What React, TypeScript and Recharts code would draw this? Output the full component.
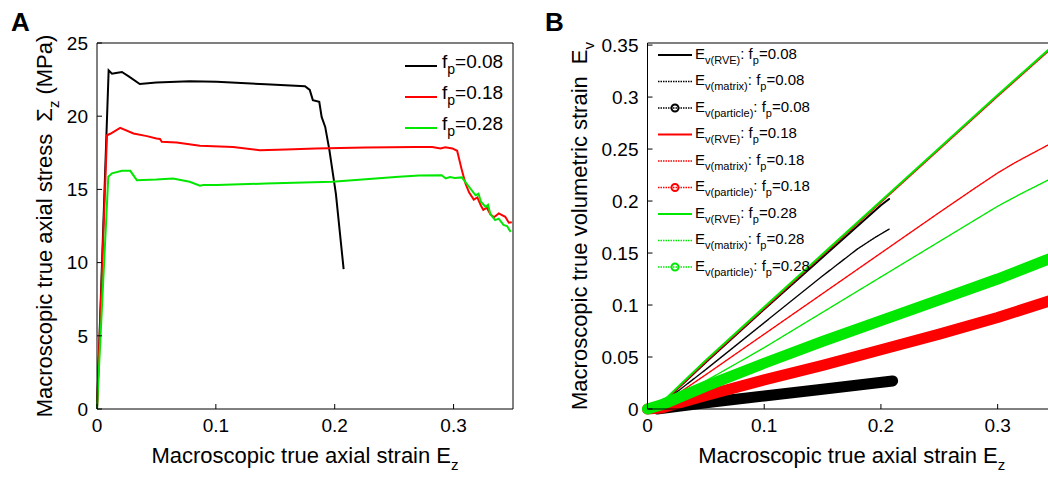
import { LineChart, Line, XAxis, YAxis, Legend, Label } from "recharts";

const FONT = '"Liberation Sans", Arial, Helvetica, sans-serif';
const BLACK = "#000000";
const RED = "#ff0000";
const GREEN = "#00e800";

// ---- panel A: stress vs strain ----
const strainA08 = [0, 0.0098, 0.0126, 0.016, 0.021, 0.027, 0.036, 0.05, 0.078, 0.1006, 0.142, 0.175, 0.179, 0.1816, 0.187, 0.189, 0.192, 0.1955, 0.201, 0.2075];
const stressA08 = [0, 23.13, 22.9, 22.95, 23.02, 22.7, 22.2, 22.3, 22.38, 22.35, 22.18, 22.05, 21.8, 21.1, 20.98, 19.95, 19.27, 17.7, 14.7, 9.55];

const strainA18 = [0, 0.0084, 0.0112, 0.0195, 0.0307, 0.042, 0.05, 0.053, 0.0545, 0.067, 0.0866, 0.1145, 0.137, 0.159, 0.184, 0.226, 0.268, 0.282, 0.289, 0.293, 0.299, 0.303, 0.307, 0.31, 0.313, 0.317, 0.32, 0.323, 0.325, 0.328, 0.331, 0.334, 0.338, 0.3435, 0.3465, 0.349];
const stressA18 = [0, 18.7, 18.8, 19.2, 18.82, 18.64, 18.48, 18.45, 18.25, 18.2, 17.98, 17.9, 17.68, 17.73, 17.8, 17.86, 17.9, 17.9, 17.8, 17.88, 17.8, 17.64, 16.3, 15.4, 14.8, 14.3, 14.45, 13.9, 13.6, 13.75, 13.3, 13.1, 13.36, 13.13, 12.72, 12.75];

const strainA28 = [0, 0.0095, 0.0126, 0.021, 0.028, 0.0335, 0.05, 0.064, 0.078, 0.0866, 0.0894, 0.1006, 0.142, 0.198, 0.254, 0.271, 0.29, 0.2934, 0.297, 0.301, 0.307, 0.31, 0.313, 0.3185, 0.321, 0.323, 0.327, 0.329, 0.331, 0.335, 0.338, 0.342, 0.345, 0.348];
const stressA28 = [0, 15.86, 16.1, 16.27, 16.27, 15.63, 15.68, 15.75, 15.52, 15.25, 15.3, 15.3, 15.4, 15.52, 15.86, 15.95, 15.97, 15.75, 15.85, 15.78, 15.82, 15.5, 15.18, 14.6, 14.7, 14.16, 13.8, 13.95, 13.3, 12.9, 13.0, 12.57, 12.5, 12.1];

const fpLabels = ["0.08", "0.18", "0.28"];
const xTicks = [0, 0.1, 0.2, 0.3];
const yTicksA = [0, 5, 10, 15, 20, 25];
const yTicksB = [0, 0.05, 0.1, 0.15, 0.2, 0.25, 0.3, 0.35];

// ---- panel B: volumetric strain vs axial strain ----
const strainB = [0, 0.012, 0.05, 0.1, 0.15, 0.2, 0.25, 0.3, 0.35];

const rveX08 = [0, 0.012, 0.05, 0.1, 0.15, 0.2, 0.207];
const rveY08 = [0, 0.005, 0.045, 0.096, 0.146, 0.196, 0.202];
const matX08 = [0, 0.012, 0.05, 0.1, 0.15, 0.18, 0.195, 0.207];
const matY08 = [0, 0.005, 0.038, 0.083, 0.128, 0.154, 0.165, 0.173];
const parX08 = [0.008, 0.05, 0.1, 0.15, 0.21];
const parY08 = [0, 0.006, 0.0125, 0.019, 0.027];

const rveY18 = [0, 0.005, 0.046, 0.097, 0.148, 0.199, 0.25, 0.301, 0.351];
const matX18 = [0, 0.012, 0.05, 0.1, 0.15, 0.2, 0.25, 0.28, 0.3, 0.315, 0.33, 0.35];
const matY18 = [0, 0.004, 0.033, 0.072, 0.111, 0.15, 0.189, 0.212, 0.227, 0.237, 0.246, 0.258];
const parY18 = [0, 0.001, 0.013, 0.028, 0.042, 0.057, 0.072, 0.088, 0.106];

const rveY28 = [0, 0.006, 0.047, 0.098, 0.149, 0.2, 0.251, 0.302, 0.352];
const matX28 = [0, 0.012, 0.05, 0.1, 0.15, 0.2, 0.25, 0.3, 0.32, 0.35];
const matY28 = [0, 0.004, 0.027, 0.059, 0.093, 0.127, 0.161, 0.195, 0.207, 0.224];
const parY28 = [0, 0.004, 0.022, 0.044, 0.065, 0.085, 0.105, 0.125, 0.147];

const zip = (xs: number[], ys: number[]) => xs.map((x, i) => ({ x, y: ys[i] }));

const seriesA = [
  { name: "0.08", color: BLACK, data: zip(strainA08, stressA08) },
  { name: "0.18", color: RED, data: zip(strainA18, stressA18) },
  { name: "0.28", color: GREEN, data: zip(strainA28, stressA28) },
];

type Kind = "rve" | "matrix" | "particle";
const seriesB: { sub: string; fp: string; kind: Kind; color: string; data: { x: number; y: number }[] }[] = [
  { sub: "v(RVE)", fp: "0.08", kind: "rve", color: BLACK, data: zip(rveX08, rveY08) },
  { sub: "v(matrix)", fp: "0.08", kind: "matrix", color: BLACK, data: zip(matX08, matY08) },
  { sub: "v(particle)", fp: "0.08", kind: "particle", color: BLACK, data: zip(parX08, parY08) },
  { sub: "v(RVE)", fp: "0.18", kind: "rve", color: RED, data: zip(strainB, rveY18) },
  { sub: "v(matrix)", fp: "0.18", kind: "matrix", color: RED, data: zip(matX18, matY18) },
  { sub: "v(particle)", fp: "0.18", kind: "particle", color: RED, data: zip(strainB, parY18) },
  { sub: "v(RVE)", fp: "0.28", kind: "rve", color: GREEN, data: zip(strainB, rveY28) },
  { sub: "v(matrix)", fp: "0.28", kind: "matrix", color: GREEN, data: zip(matX28, matY28) },
  { sub: "v(particle)", fp: "0.28", kind: "particle", color: GREEN, data: zip(strainB, parY28) },
];

const TICK = { fill: "#000", fontSize: 19, fontFamily: FONT };
const blank = () => "";

function xTitle(props: any) {
  const vb = props.viewBox;
  return (
    <text x={vb.x + vb.width / 2} y={vb.y + 54} textAnchor="middle" fontSize={22} fontFamily={FONT} fill="#000">
      Macroscopic true axial strain E<tspan fontSize={15} dy={7}>z</tspan>
    </text>
  );
}

function yTitleA(props: any) {
  const vb = props.viewBox;
  const bx = vb.x + vb.width - 45;
  const cy = vb.y + vb.height / 2;
  return (
    <text x={bx} y={cy} transform={`rotate(-90 ${bx} ${cy})`} textAnchor="middle" fontSize={22} fontFamily={FONT} fill="#000">
      Macroscopic true axial stress<tspan dx={12}>Σ</tspan>
      <tspan fontSize={15} dy={7}>z</tspan>
      <tspan dy={-7} dx={6}>(MPa)</tspan>
    </text>
  );
}

function yTitleB(props: any) {
  const vb = props.viewBox;
  const bx = vb.x + vb.width - 61;
  const cy = vb.y + vb.height / 2;
  return (
    <text x={bx} y={cy} transform={`rotate(-90 ${bx} ${cy})`} textAnchor="middle" fontSize={22} fontFamily={FONT} fill="#000">
      Macroscopic true volumetric strain<tspan dx={12}>E</tspan>
      <tspan fontSize={15} dy={7}>v</tspan>
    </text>
  );
}

function LegendA() {
  return (
    <svg width={120} height={100}>
      {seriesA.map((s, i) => {
        const y = 16 + i * 31;
        return (
          <g key={s.name}>
            <line x1={5} x2={37} y1={y} y2={y} stroke={s.color} strokeWidth={2} />
            <text x={42} y={y + 2} fontSize={19} fontFamily={FONT} fill="#000">
              f<tspan fontSize={14} dy={6}>p</tspan>
              <tspan dy={-6}>={fpLabels[i]}</tspan>
            </text>
          </g>
        );
      })}
    </svg>
  );
}

function LegendB() {
  return (
    <svg width={200} height={240}>
      {seriesB.map((s, i) => {
        const y = 15 + i * 26.5;
        return (
          <g key={i}>
            <line
              x1={8}
              x2={42}
              y1={y}
              y2={y}
              stroke={s.color}
              strokeWidth={s.kind === "rve" ? 2 : 1.4}
              strokeDasharray={s.kind === "rve" ? undefined : "1.5 1"}
            />
            {s.kind === "particle" && <circle cx={25} cy={y} r={3.5} fill="none" stroke={s.color} strokeWidth={2} />}
            <text x={45} y={y + 3.5} fontSize={15} fontFamily={FONT} fill="#000">
              E<tspan fontSize={11} dy={5}>{s.sub}</tspan>
              <tspan dy={-5}>: f</tspan>
              <tspan fontSize={11} dy={5}>p</tspan>
              <tspan dy={-5}>={s.fp}</tspan>
            </text>
          </g>
        );
      })}
    </svg>
  );
}

function PanelA() {
  return (
    <LineChart width={520} height={477} margin={{ top: 42, right: 6, bottom: 38, left: 37 }}>
      <XAxis dataKey="x" type="number" domain={[0, 0.35]} ticks={xTicks} tickSize={-5} tickMargin={15} stroke="#000" tick={TICK} height={30}>
        <Label content={xTitle} />
      </XAxis>
      <XAxis xAxisId="top" orientation="top" type="number" domain={[0, 0.35]} ticks={[0.1, 0.2, 0.3]} tickSize={-5} tickFormatter={blank} stroke="#000" height={1} />
      <YAxis type="number" domain={[0, 25]} ticks={yTicksA} tickSize={-5} tickMargin={14} stroke="#000" tick={TICK} width={60}>
        <Label content={yTitleA} />
      </YAxis>
      <YAxis yAxisId="right" orientation="right" type="number" domain={[0, 25]} ticks={[5, 10, 15, 20]} tickSize={-5} tickFormatter={blank} stroke="#000" width={1} />
      {seriesA.map((s) => (
        <Line key={s.name} data={s.data} dataKey="y" name={s.name} stroke={s.color} strokeWidth={2} dot={false} isAnimationActive={false} />
      ))}
      <Legend
        layout="horizontal"
        verticalAlign="middle"
        align="center"
        content={() => <LegendA />}
        wrapperStyle={{ position: "absolute", left: 400, top: 50, width: 120, height: 100 }}
      />
    </LineChart>
  );
}

function PanelB() {
  return (
    <LineChart width={540} height={477} margin={{ top: 42, right: 23, bottom: 38, left: 47.5 }}>
      <XAxis dataKey="x" type="number" domain={[0, 0.35]} ticks={xTicks} tickSize={-5} tickMargin={15} stroke="#000" tick={TICK} height={30}>
        <Label content={xTitle} />
      </XAxis>
      <XAxis xAxisId="top" orientation="top" type="number" domain={[0, 0.35]} ticks={[0.1, 0.2, 0.3]} tickSize={-5} tickFormatter={blank} stroke="#000" height={1} />
      <YAxis type="number" domain={[0, 0.35]} ticks={yTicksB} tickSize={-5} tickMargin={14} stroke="#000" tick={TICK} width={60}>
        <Label content={yTitleB} />
      </YAxis>
      <YAxis yAxisId="right" orientation="right" type="number" domain={[0, 0.35]} ticks={yTicksB.slice(1, -1)} tickSize={-5} tickFormatter={blank} stroke="#000" width={1} />
      {seriesB.map((s, i) => (
        <Line
          key={i}
          data={s.data}
          dataKey="y"
          name={`${s.sub} ${s.fp}`}
          stroke={s.color}
          strokeWidth={s.kind === "particle" ? 11 : s.kind === "rve" ? 2 : 1.4}
          strokeDasharray={s.kind === "matrix" ? "1.2 0.8" : undefined}
          strokeLinecap="round"
          strokeLinejoin="round"
          dot={false}
          isAnimationActive={false}
        />
      ))}
      <Legend
        layout="horizontal"
        verticalAlign="middle"
        align="center"
        content={() => <LegendB />}
        wrapperStyle={{ position: "absolute", left: 110, top: 40, width: 200, height: 240 }}
      />
    </LineChart>
  );
}

export default function App() {
  return (
    <div style={{ position: "fixed", left: 0, top: 0, width: 1048, height: 477, overflow: "hidden", background: "#fff", fontFamily: FONT }}>
      <div style={{ position: "absolute", left: 0, top: 0 }}>
        <PanelA />
      </div>
      <div style={{ position: "absolute", left: 540, top: 0 }}>
        <PanelB />
      </div>
      <div style={{ position: "absolute", left: 11, top: 9, fontSize: 26, fontWeight: 700, lineHeight: "26px" }}>A</div>
      <div style={{ position: "absolute", left: 545, top: 9, fontSize: 26, fontWeight: 700, lineHeight: "26px" }}>B</div>
    </div>
  );
}
